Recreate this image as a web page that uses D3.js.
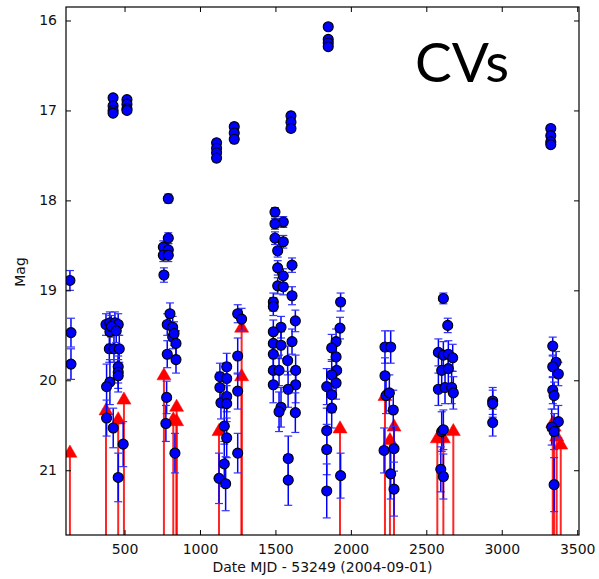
<!DOCTYPE html>
<html>
<head>
<meta charset="utf-8">
<script src="https://cdn.jsdelivr.net/npm/d3@7"></script>
<style>
  html, body { margin: 0; padding: 0; background: #fff; }
  svg { display: block; }
</style>
</head>
<body>
<svg id="chart" width="599" height="579"></svg>
<script>
// ---------- data ----------
// Detections: day (MJD - 53249), magnitude, 1-sigma error
const detDay = [
  138, 145, 145,
  424, 424, 424, 424, 516, 516, 516, 516,
  377, 403, 403, 399, 430, 436, 458, 465, 458, 458, 458, 403, 381, 381, 425, 491, 458, 412, 445,
  790, 790, 757, 790, 757, 790, 761, 801, 783, 819, 819, 841, 783, 841, 828, 779, 774, 834,
  1110, 1110, 1110, 1110, 1227, 1227, 1227, 1603, 1603, 1603, 1850, 1850, 1850, 1850,
  1132, 1177, 1132, 1177, 1139, 1177, 1177, 1161, 1177, 1161, 1126, 1170, 1250, 1276, 1250, 1250, 1250,
  1497, 1552, 1497, 1497, 1552, 1515, 1610, 1515, 1552, 1515, 1552, 1610, 1486, 1486, 1632, 1537, 1486, 1610, 1486, 1537, 1486, 1581, 1486, 1524, 1634, 1486, 1634, 1584, 1537, 1524, 1632, 1585, 1585,
  1932, 1928, 1902, 1873, 1902, 1906, 1873, 1902, 1840, 1873, 1873, 1840, 1840, 1932, 1840,
  2226, 2264, 2226, 2233, 2255, 2281, 2220, 2286, 2264, 2286,
  2613, 2642, 2580, 2613, 2646, 2675, 2602, 2646, 2580, 2624, 2668, 2679, 2602, 2613, 2596, 2613,
  2940, 2940, 2940,
  3325, 3325, 3325, 3325, 3338, 3360, 3338, 3375, 3338, 3347, 3375, 3331, 3347, 3347
];
const detMag = [
  18.89, 19.47, 19.82,
  16.86, 16.95, 17.00, 17.03, 16.88, 16.93, 16.98, 17.00,
  19.38, 19.36, 19.46, 19.65, 19.65, 19.36, 19.38, 19.65, 19.85, 19.91, 19.95, 20.02, 20.07, 20.42, 20.53, 20.71, 21.08, 19.40, 19.45,
  17.98, 18.42, 18.52, 18.55, 18.61, 18.61, 18.83, 19.26, 19.38, 19.41, 19.52, 19.59, 19.71, 19.77, 19.48, 20.19, 20.48, 20.81,
  17.36, 17.42, 17.47, 17.53, 17.18, 17.25, 17.32, 17.06, 17.13, 17.20, 16.07, 16.21, 16.25, 16.29,
  19.96, 19.85, 20.08, 19.98, 20.25, 20.18, 20.26, 20.51, 20.64, 20.93, 21.09, 21.15, 19.26, 19.32, 19.73, 20.12, 20.81,
  18.13, 18.24, 18.26, 18.42, 18.46, 18.56, 18.72, 18.75, 18.84, 18.95, 18.96, 19.06, 19.13, 19.18, 19.34, 19.41, 19.46, 19.57, 19.59, 19.61, 19.71, 19.78, 19.89, 19.89, 19.89, 20.05, 20.05, 20.10, 20.30, 20.35, 20.36, 20.87, 21.11,
  19.13, 19.42, 19.57, 19.64, 19.74, 19.89, 19.94, 20.03, 20.07, 20.16, 20.31, 20.56, 20.77, 21.06, 21.23,
  19.63, 19.63, 19.95, 20.17, 20.14, 20.33, 20.78, 20.76, 21.04, 21.21,
  19.09, 19.39, 19.69, 19.72, 19.71, 19.75, 19.89, 19.87, 20.10, 20.08, 20.08, 20.14, 20.57, 20.55, 20.99, 21.07,
  20.23, 20.26, 20.47,
  17.20, 17.28, 17.35, 17.38, 19.62, 19.80, 19.85, 19.93, 20.11, 20.17, 20.46, 20.52, 20.57, 21.16
];
const detErr = [
  0.11, 0.16, 0.17,
  0.03, 0.03, 0.03, 0.03, 0.03, 0.03, 0.03, 0.03,
  0.12, 0.12, 0.14, 0.15, 0.15, 0.12, 0.12, 0.15, 0.18, 0.18, 0.18, 0.25, 0.25, 0.20, 0.22, 0.25, 0.27, 0.12, 0.13,
  0.05, 0.06, 0.07, 0.07, 0.07, 0.07, 0.08, 0.12, 0.12, 0.12, 0.13, 0.14, 0.15, 0.15, 0.13, 0.18, 0.20, 0.22,
  0.04, 0.04, 0.04, 0.04, 0.04, 0.04, 0.04, 0.04, 0.04, 0.04, 0.03, 0.03, 0.03, 0.03,
  0.15, 0.15, 0.17, 0.17, 0.18, 0.17, 0.20, 0.20, 0.22, 0.25, 0.28, 0.30, 0.10, 0.12, 0.20, 0.20, 0.22,
  0.05, 0.06, 0.06, 0.07, 0.07, 0.07, 0.08, 0.08, 0.08, 0.09, 0.09, 0.10, 0.10, 0.10, 0.12, 0.12, 0.13, 0.14, 0.14, 0.15, 0.15, 0.16, 0.17, 0.17, 0.17, 0.20, 0.20, 0.20, 0.22, 0.22, 0.22, 0.25, 0.28,
  0.10, 0.12, 0.14, 0.15, 0.15, 0.17, 0.17, 0.18, 0.20, 0.20, 0.22, 0.25, 0.28, 0.25, 0.30,
  0.18, 0.18, 0.20, 0.20, 0.20, 0.22, 0.25, 0.25, 0.28, 0.30,
  0.06, 0.08, 0.15, 0.15, 0.15, 0.15, 0.17, 0.17, 0.18, 0.18, 0.18, 0.18, 0.22, 0.22, 0.25, 0.25,
  0.15, 0.15, 0.15,
  0.03, 0.03, 0.03, 0.03, 0.10, 0.12, 0.12, 0.13, 0.15, 0.15, 0.18, 0.20, 0.20, 0.30
];
// Upper limits: day, limiting magnitude
const limDay = [138, 377, 458, 496, 761, 823, 845, 845, 1126, 1276, 1276, 1928, 2226, 2259, 2286, 2573, 2613, 2679, 3338, 3347, 3364, 3391];
const limMag = [20.81, 20.34, 20.44, 20.22, 19.95, 20.44, 20.30, 20.46, 20.57, 19.42, 19.96, 20.54, 20.18, 20.67, 20.52, 20.65, 20.65, 20.57, 20.48, 20.52, 20.63, 20.72];

const xTicks = [500, 1000, 1500, 2000, 2500, 3000, 3500];
const yTicks = [16, 17, 18, 19, 20, 21];
const xDomain = [112, 3512];
const yDomain = [15.85, 21.72];
const xLabel = "Date MJD - 53249 (2004-09-01)";
const yLabel = "Mag";
const title = "CVs";

// ---------- layout ----------
const svg = d3.select("#chart");
const margin = {left: 66, top: 7, right: 20, bottom: 44};
const W = 599 - margin.left - margin.right;
const H = 579 - margin.top - margin.bottom;
const x = d3.scaleLinear().domain(xDomain).range([0, W]);
const y = d3.scaleLinear().domain(yDomain).range([0, H]);

const g = svg.append("g").attr("transform", `translate(${margin.left},${margin.top})`);
svg.append("defs").append("clipPath").attr("id", "clip")
  .append("rect").attr("width", W).attr("height", H);

const plot = g.append("g").attr("clip-path", "url(#clip)");

// upper limits (red arrows)
const lims = limDay.map((d, i) => ({day: d, mag: limMag[i]}));
plot.selectAll("line.lim").data(lims).enter().append("line")
  .attr("class", "lim")
  .attr("x1", d => x(d.day)).attr("x2", d => x(d.day))
  .attr("y1", d => y(d.mag)).attr("y2", H + 5)
  .attr("stroke", "#ff0000").attr("stroke-width", 2).attr("stroke-opacity", 0.85);
plot.selectAll("path.lim").data(lims).enter().append("path")
  .attr("class", "lim")
  .attr("transform", d => `translate(${x(d.day)},${y(d.mag)})`)
  .attr("d", d3.symbol(d3.symbolTriangle, 85)())
  .attr("fill", "#ff0000").attr("stroke", "#ff0000").attr("stroke-width", 0.5);

// detections with error bars
const dets = detDay.map((d, i) => ({day: d, mag: detMag[i], err: detErr[i]}));
const eb = plot.selectAll("g.eb").data(dets).enter().append("g").attr("class", "eb");
eb.append("line")
  .attr("x1", d => x(d.day)).attr("x2", d => x(d.day))
  .attr("y1", d => y(d.mag - d.err)).attr("y2", d => y(d.mag + d.err))
  .attr("stroke", "#0000ff").attr("stroke-width", 1.5);
eb.append("line")
  .attr("x1", d => x(d.day) - 4).attr("x2", d => x(d.day) + 4)
  .attr("y1", d => y(d.mag - d.err)).attr("y2", d => y(d.mag - d.err))
  .attr("stroke", "#3333ff").attr("stroke-width", 1.2);
eb.append("line")
  .attr("x1", d => x(d.day) - 4).attr("x2", d => x(d.day) + 4)
  .attr("y1", d => y(d.mag + d.err)).attr("y2", d => y(d.mag + d.err))
  .attr("stroke", "#3333ff").attr("stroke-width", 1.2);
plot.selectAll("circle.det").data(dets).enter().append("circle")
  .attr("class", "det")
  .attr("cx", d => x(d.day)).attr("cy", d => y(d.mag))
  .attr("r", 5)
  .attr("fill", "#0000ff").attr("stroke", "#000").attr("stroke-width", 1.1);

// axes (inward ticks on all four sides)
const font = "'DejaVu Sans', sans-serif";
const styleAxis = (sel) => {
  sel.select(".domain").remove();
  sel.selectAll(".tick line").attr("stroke", "#000");
  sel.selectAll(".tick text").attr("font-family", font).attr("font-size", 14).attr("fill", "#111");
};
g.append("g").attr("transform", `translate(0,${H})`)
  .call(d3.axisBottom(x).tickValues(xTicks).tickSizeInner(-5).tickSizeOuter(0).tickPadding(9).tickFormat(d3.format("d")))
  .call(styleAxis);
g.append("g")
  .call(d3.axisTop(x).tickValues(xTicks).tickSizeInner(-5).tickSizeOuter(0).tickFormat(""))
  .call(styleAxis);
g.append("g")
  .call(d3.axisLeft(y).tickValues(yTicks).tickSizeInner(-5).tickSizeOuter(0).tickPadding(9).tickFormat(d3.format("d")))
  .call(styleAxis);
g.append("g").attr("transform", `translate(${W},0)`)
  .call(d3.axisRight(y).tickValues(yTicks).tickSizeInner(-5).tickSizeOuter(0).tickFormat(""))
  .call(styleAxis);

g.append("rect").attr("width", W).attr("height", H)
  .attr("fill", "none").attr("stroke", "#000").attr("stroke-width", 1.2);

// labels
svg.append("text")
  .attr("x", margin.left + W / 2).attr("y", 572)
  .attr("text-anchor", "middle")
  .attr("font-family", font).attr("font-size", 14).attr("fill", "#111")
  .text(xLabel);
svg.append("text")
  .attr("transform", "translate(25,272) rotate(-90)")
  .attr("text-anchor", "middle")
  .attr("font-family", font).attr("font-size", 14).attr("fill", "#111")
  .text(yLabel);
svg.append("text")
  .attr("x", 462).attr("y", 82)
  .attr("text-anchor", "middle")
  .attr("font-family", "Lato, 'Open Sans', sans-serif").attr("font-size", 55).attr("fill", "#000")
  .text(title);
</script>
</body>
</html>
